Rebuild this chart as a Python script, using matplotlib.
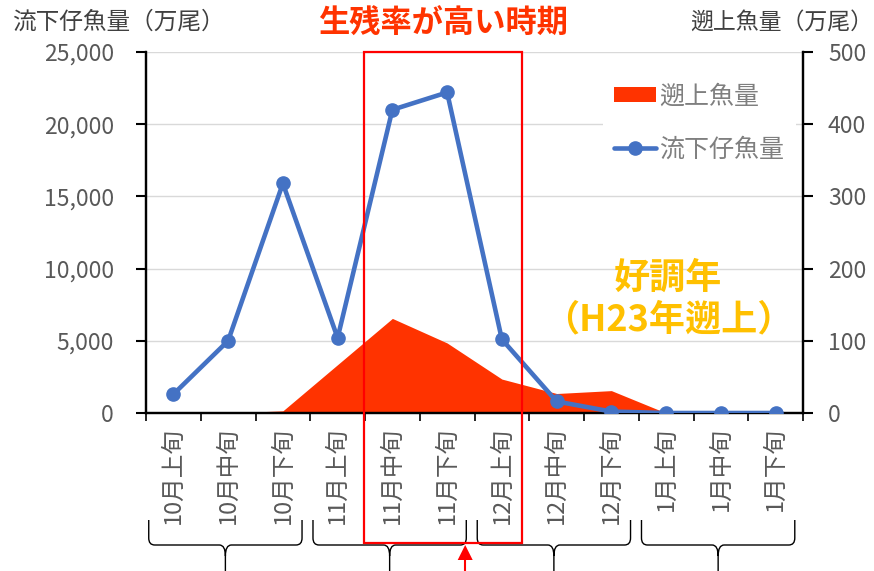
import matplotlib
matplotlib.use("Agg")
import matplotlib.pyplot as plt
import matplotlib.transforms as mtransforms
from matplotlib.patches import Rectangle, Polygon, PathPatch
from matplotlib.path import Path
from matplotlib.lines import Line2D
from matplotlib.ticker import FuncFormatter, MultipleLocator, FixedLocator

plt.rcParams['font.family'] = ['Noto Sans CJK JP', 'DejaVu Sans']

# ---- data ----
categories = ['10月上旬', '10月中旬', '10月下旬', '11月上旬', '11月中旬', '11月下旬',
              '12月上旬', '12月中旬', '12月下旬', '1月上旬', '1月中旬', '1月下旬']
downstream_larvae = [1300, 5000, 15900, 5200, 21000, 22200, 5100, 800, 100, 0, 0, 0]   # 流下仔魚量（万尾）
upstream_fish = [0, 0, 3, 67, 131, 97, 47, 27, 31, 0, 0, 0]                          # 遡上魚量（万尾）
left_ticks = [0, 5000, 10000, 15000, 20000, 25000]
right_ticks = [0, 100, 200, 300, 400, 500]

W, H = 874, 571
fig = plt.figure(figsize=(W / 100, H / 100), dpi=100)
fig.patch.set_facecolor('white')

ax = fig.add_axes([146 / W, 1 - 413 / H, 657 / W, 361 / H])
ax2 = ax.twinx()
ax.set_zorder(ax2.get_zorder() + 1)
ax.patch.set_visible(False)

x = list(range(len(categories)))

# area on secondary axis (drawn below)
area = ax2.fill_between(x, 0, upstream_fish, color='#FF3300', linewidth=0, label='遡上魚量', zorder=2)
ax2.set_ylim(0, 500)
ax2.yaxis.set_major_locator(FixedLocator(right_ticks))
ax2.grid(axis='y', color='#D9D9D9', linewidth=1.0, zorder=0)
ax2.set_axisbelow(True)

# line on primary axis
line, = ax.plot(x, downstream_larvae, color='#4472C4', linewidth=3.3, marker='o',
                markersize=9.5, label='流下仔魚量', zorder=3, solid_capstyle='round')
ax.set_ylim(0, 25000)
ax.set_xlim(-0.5, len(categories) - 0.5)
ax.yaxis.set_major_locator(FixedLocator(left_ticks))
ax.yaxis.set_major_formatter(FuncFormatter(lambda v, p: f'{int(v):,}'))

# spines
for a in (ax, ax2):
    a.spines['top'].set_visible(False)
    for s in ('left', 'right', 'bottom'):
        a.spines[s].set_linewidth(1.6)
        a.spines[s].set_color('black')

# ticks
tick_color = '#595959'
ax.tick_params(axis='y', which='major', direction='out', length=7, width=1.5,
               labelsize=16.5, labelcolor=tick_color, pad=16)
ax2.tick_params(axis='y', which='major', direction='out', length=7, width=1.5,
                labelsize=16.5, labelcolor=tick_color, pad=11)
ax.set_xticks(x)
ax.set_xticklabels(categories, rotation=90, fontsize=17, color=tick_color)
ax.xaxis.set_minor_locator(MultipleLocator(1, offset=0.5))
ax.tick_params(axis='x', which='major', length=0, pad=10)
ax.tick_params(axis='x', which='minor', direction='out', length=6, width=1.2, color='black')

# legend
handles = [area, line]
leg = ax.legend(handles, ['遡上魚量', '流下仔魚量'], loc='upper left',
                bbox_to_anchor=(603 / W, 1 - 72 / H), bbox_transform=fig.transFigure,
                fontsize=18, frameon=True, fancybox=False, edgecolor='none',
                facecolor='white', framealpha=1, handlelength=1.65, handleheight=0.58,
                handletextpad=0.15, labelspacing=1.1, borderpad=0.45, borderaxespad=0,
                labelcolor='#7F7F7F')
leg.set_zorder(10)

# texts
fig.text(12 / W, 1 - 22 / H, '流下仔魚量（万尾）', ha='left', va='center', fontsize=17, color='#404040')
fig.text(873 / W, 1 - 22 / H, '遡上魚量（万尾）', ha='right', va='center', fontsize=16.5, color='#404040')
fig.text(443 / W, 1 - 24 / H, '生残率が高い時期', ha='center', va='center', fontsize=22.5,
         color='#FF3300', fontweight='bold')
fig.text(668 / W, 1 - 278 / H, '好調年', ha='center', va='center', fontsize=26,
         color='#FFC000', fontweight='bold')
fig.text(668 / W, 1 - 320 / H, '（H23年遡上）', ha='center', va='center', fontsize=26,
         color='#FFC000', fontweight='bold')

# red highlight rectangle and arrow (x in data, y in figure fraction)
trans = mtransforms.blended_transform_factory(ax.transData, fig.transFigure)
def fy(p):
    return 1 - p / H

rect = Rectangle((3.48, fy(543)), 6.37 - 3.48, fy(52) - fy(543), transform=trans,
                 fill=False, edgecolor='#FF0000', linewidth=1.6, clip_on=False, zorder=20)
fig.add_artist(rect)

ax_x = 5.33
half = 7.5 / 54.75
tri = Polygon([(ax_x, fy(545)), (ax_x - half, fy(560)), (ax_x + half, fy(560))], closed=True,
              transform=trans, facecolor='#FF0000', edgecolor='none', clip_on=False, zorder=21)
fig.add_artist(tri)
fig.add_artist(Line2D([ax_x, ax_x], [fy(559), fy(575)], transform=trans, color='#FF0000',
                      linewidth=1.5, zorder=21))

# braces grouping months
def brace(x0, x1, yt=520, yl=545, ytip=556, ybot=575):
    xm = (x0 + x1) / 2
    dx = 6 / 54.75
    verts = [
        (x0, fy(yt)), (x0, fy(yl - 7)),
        (x0, fy(yl)), (x0 + dx, fy(yl)),
        (xm - dx, fy(yl)),
        (xm, fy(yl)), (xm, fy(ytip)),
        (xm, fy(ybot)),
        (xm, fy(ytip)),
        (xm, fy(yl)), (xm + dx, fy(yl)),
        (x1 - dx, fy(yl)),
        (x1, fy(yl)), (x1, fy(yl - 7)),
        (x1, fy(yt)),
    ]
    codes = [Path.MOVETO, Path.LINETO,
             Path.CURVE3, Path.CURVE3,
             Path.LINETO,
             Path.CURVE3, Path.CURVE3,
             Path.LINETO,
             Path.MOVETO,
             Path.CURVE3, Path.CURVE3,
             Path.LINETO,
             Path.CURVE3, Path.CURVE3,
             Path.LINETO]
    p = PathPatch(Path(verts, codes), transform=trans, fill=False, edgecolor='black',
                  linewidth=1.0, clip_on=False, zorder=15)
    fig.add_artist(p)

for k in range(4):
    brace(3 * k - 0.45, 3 * k + 2.35)

fig.savefig('out.png', dpi=100, facecolor='white')
